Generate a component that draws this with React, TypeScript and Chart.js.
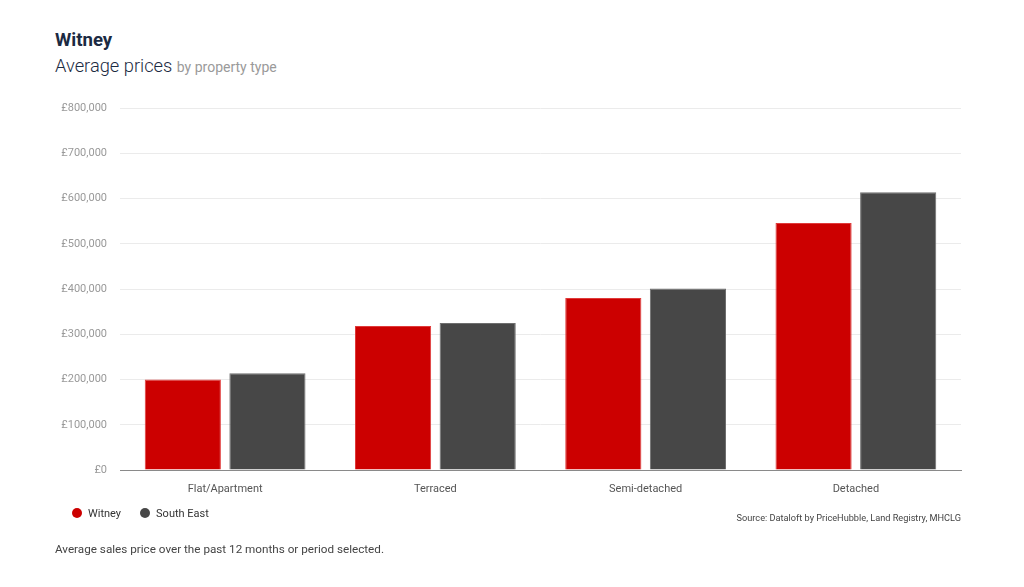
import React, { useEffect, useRef } from "react";
import { Chart, registerables } from "chart.js";

Chart.register(...registerables);

const categories = ["Flat/Apartment", "Terraced", "Semi-detached", "Detached"];
const witneyPrices = [200000, 318000, 380000, 546000];
const southEastPrices = [214000, 325000, 401000, 614000];
const seriesNames = ["Witney", "South East"];
const seriesColors = ["#cc0000", "#474747"];
const seriesBorders = ["#e03a3a", "#6e6e6e"];

const FONT = "Roboto, 'Noto Sans', sans-serif";

const fmt = (v: number) => "£" + v.toLocaleString("en-GB");

export default function App() {
  const canvasRef = useRef<HTMLCanvasElement | null>(null);

  useEffect(() => {
    document.body.style.margin = "0";
    const ctx = canvasRef.current;
    if (!ctx) return;
    const chart = new Chart(ctx, {
      type: "bar",
      data: {
        labels: categories,
        datasets: [
          {
            label: seriesNames[0],
            data: witneyPrices,
            backgroundColor: seriesColors[0],
            borderColor: seriesBorders[0],
            borderWidth: 1,
            categoryPercentage: 0.805,
            barPercentage: 0.9,
          },
          {
            label: seriesNames[1],
            data: southEastPrices,
            backgroundColor: seriesColors[1],
            borderColor: seriesBorders[1],
            borderWidth: 1,
            categoryPercentage: 0.805,
            barPercentage: 0.9,
          },
        ],
      },
      options: {
        animation: false,
        responsive: false,
        maintainAspectRatio: false,
        layout: { padding: { top: 108, left: 50, right: 63, bottom: 87 } },
        plugins: {
          legend: { display: false },
          tooltip: { enabled: false },
          title: { display: false },
        },
        scales: {
          x: {
            grid: { display: false, drawTicks: false },
            border: { display: true, color: "#8a8a8a", width: 1 },
            ticks: {
              color: "#555555",
              padding: 13,
              font: { family: FONT, size: 11 },
            },
            afterFit: (s: any) => {
              s.height = 30;
            },
          },
          y: {
            min: 0,
            max: 800000,
            grid: { color: "#ebebeb", drawTicks: false, lineWidth: 1 },
            border: { display: false },
            ticks: {
              stepSize: 100000,
              color: "#999999",
              padding: 13,
              font: { family: FONT, size: 11 },
              callback: (v: any) => fmt(Number(v)),
            },
            afterFit: (s: any) => {
              s.width = 70;
            },
          },
        },
      },
    });
    return () => chart.destroy();
  }, []);

  const dot = (c: string) => ({
    display: "inline-block",
    width: 10,
    height: 10,
    borderRadius: "50%",
    background: c,
    marginRight: 6,
    verticalAlign: "middle",
    position: "relative" as const,
    top: -1,
  });

  return (
    <div
      style={{
        position: "absolute",
        left: 0,
        top: 0,
        width: 1024,
        height: 587,
        background: "#ffffff",
        fontFamily: FONT,
        overflow: "hidden",
      }}
    >
      <div
        style={{
          position: "absolute",
          left: 55,
          top: 29,
          fontSize: 18.6,
          fontWeight: 700,
          color: "#1b2a42",
          lineHeight: "22px",
        }}
      >
        Witney
      </div>
      <div
        style={{
          position: "absolute",
          left: 55,
          top: 54,
          fontSize: 18.3,
          fontWeight: 300,
          color: "#1b2a42",
          lineHeight: "24px",
          whiteSpace: "nowrap",
        }}
      >
        Average prices{" "}
        <span style={{ fontSize: 14, color: "#9a9a9a", fontWeight: 400 }}>by property type</span>
      </div>
      <canvas
        ref={canvasRef}
        width={1024}
        height={587}
        style={{ position: "absolute", left: 0, top: 0, width: 1024, height: 587 }}
      />
      <div
        style={{
          position: "absolute",
          left: 72,
          top: 506,
          fontSize: 11,
          color: "#333333",
          lineHeight: "16px",
          whiteSpace: "nowrap",
        }}
      >
        <span style={dot(seriesColors[0])} />
        <span style={{ marginRight: 19 }}>{seriesNames[0]}</span>
        <span style={dot(seriesColors[1])} />
        <span>{seriesNames[1]}</span>
      </div>
      <div
        style={{
          position: "absolute",
          right: 63,
          top: 511,
          fontSize: 9.2,
          color: "#444444",
          lineHeight: "13px",
          whiteSpace: "nowrap",
        }}
      >
        Source: Dataloft by PriceHubble, Land Registry, MHCLG
      </div>
      <div
        style={{
          position: "absolute",
          left: 55,
          top: 541,
          fontSize: 11.7,
          color: "#444444",
          lineHeight: "16px",
          whiteSpace: "nowrap",
        }}
      >
        Average sales price over the past 12 months or period selected.
      </div>
    </div>
  );
}
